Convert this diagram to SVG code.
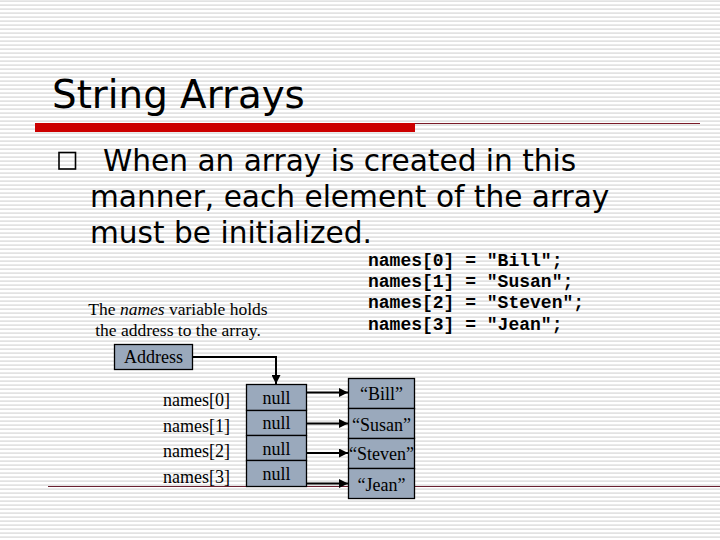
<svg xmlns="http://www.w3.org/2000/svg" width="720" height="540" viewBox="0 0 720 540">
<defs>
<pattern id="bg" x="0" y="0" width="720" height="4" patternUnits="userSpaceOnUse">
<rect x="0" y="0" width="720" height="4" fill="#ffffff"/>
<rect x="0" y="0.5" width="720" height="1.2" fill="#d6d6d6"/>
</pattern>
<marker id="ah" viewBox="0 0 10 10" refX="10" refY="5" markerWidth="4.5" markerHeight="4.5" orient="auto" markerUnits="strokeWidth">
<path d="M0,0 L10,5 L0,10 z" fill="#000"/>
</marker>
<style>
.title{font-family:"DejaVu Sans",sans-serif;font-size:38.8px;fill:#000}
.body{font-family:"DejaVu Sans",sans-serif;font-size:29.6px;fill:#000}
.code{font-family:"Liberation Mono",monospace;font-size:18px;font-weight:bold;fill:#000;white-space:pre}
.serif{font-family:"Liberation Serif",serif;font-size:18px;fill:#000}
.note{font-family:"Liberation Serif",serif;font-size:17.5px;fill:#000}
.box{fill:#9aa9bc;stroke:#000;stroke-width:1.3}
.conn{stroke:#000;stroke-width:2;fill:none;marker-end:url(#ah)}
</style>
</defs>
<rect x="0" y="0" width="720" height="540" fill="url(#bg)"/>
<text class="title" x="52" y="108">String Arrays</text>
<rect x="35" y="123" width="380" height="9" fill="#cc0000"/>
<line x1="415" y1="123.5" x2="700" y2="123.5" stroke="#7a1a28" stroke-width="1"/>
<line x1="48" y1="486.5" x2="720" y2="486.5" stroke="#6a2030" stroke-width="1"/>
<rect x="59" y="152.5" width="16.5" height="16.5" fill="none" stroke="#000" stroke-width="1.6"/>
<text class="body" x="103" y="171">When an array is created in this</text>
<text class="body" x="90" y="207">manner, each element of the array</text>
<text class="body" x="90" y="243">must be initialized.</text>
<g id="code">
<text class="code" x="368" y="266">names[0] = "Bill";</text>
<text class="code" x="368" y="287">names[1] = "Susan";</text>
<text class="code" x="368" y="308">names[2] = "Steven";</text>
<text class="code" x="368" y="330">names[3] = "Jean";</text>
</g>
<g id="note">
<text class="note" x="178" y="315" text-anchor="middle">The <tspan font-style="italic">names</tspan> variable holds</text>
<text class="note" x="178" y="336" text-anchor="middle">the address to the array.</text>
</g>
<g id="address">
<rect class="box" x="114.5" y="344.5" width="78" height="25"/>
<text class="serif" x="153.5" y="363" text-anchor="middle">Address</text>
</g>
<g id="labels">
<text class="serif" x="230" y="406" text-anchor="end">names[0]</text>
<text class="serif" x="230" y="431.5" text-anchor="end">names[1]</text>
<text class="serif" x="230" y="457" text-anchor="end">names[2]</text>
<text class="serif" x="230" y="482.5" text-anchor="end">names[3]</text>
</g>
<g id="array">
<rect class="box" x="246.5" y="384.5" width="60" height="26"/>
<rect class="box" x="246.5" y="410.5" width="60" height="25"/>
<rect class="box" x="246.5" y="435.5" width="60" height="25"/>
<rect class="box" x="246.5" y="460.5" width="60" height="26"/>
<text class="serif" x="276.5" y="404" text-anchor="middle">null</text>
<text class="serif" x="276.5" y="429" text-anchor="middle">null</text>
<text class="serif" x="276.5" y="455" text-anchor="middle">null</text>
<text class="serif" x="276.5" y="480" text-anchor="middle">null</text>
</g>
<g id="strings">
<rect class="box" x="348.5" y="378.5" width="66" height="30"/>
<rect class="box" x="348.5" y="408.5" width="66" height="30"/>
<rect class="box" x="348.5" y="438.5" width="66" height="30"/>
<rect class="box" x="348.5" y="468.5" width="66" height="30"/>
<text class="serif" x="381.5" y="400" text-anchor="middle">“Bill”</text>
<text class="serif" x="381.5" y="430.5" text-anchor="middle">“Susan”</text>
<text class="serif" x="381.5" y="460" text-anchor="middle">“Steven”</text>
<text class="serif" x="381.5" y="490.5" text-anchor="middle">“Jean”</text>
</g>
<g id="connectors">
<path class="conn" d="M192.5,357 H276 V384"/>
<path class="conn" d="M307,392.5 H348"/>
<path class="conn" d="M307,423.5 H348"/>
<path class="conn" d="M307,453 H348"/>
<path class="conn" d="M307,483.5 H348"/>
</g>
</svg>
